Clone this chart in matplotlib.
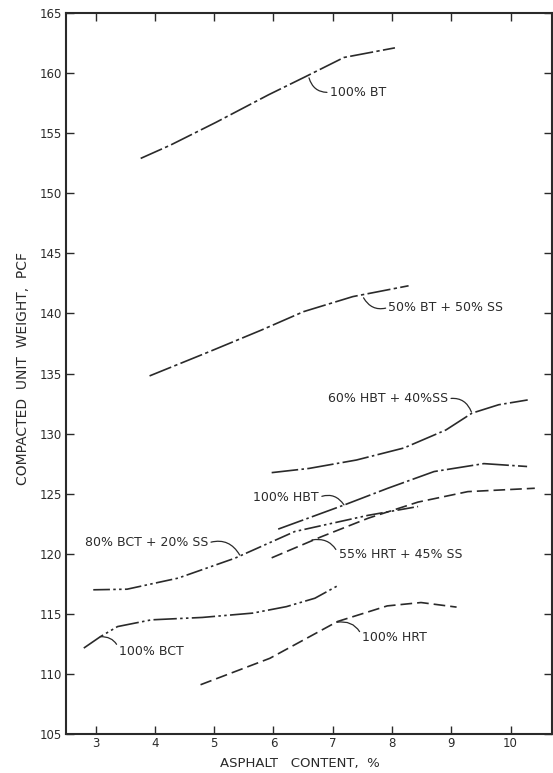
import matplotlib.pyplot as plt

# asphalt content (%) vs compacted unit weight (pcf)
bt100_x = [3.76, 4.26, 5.03, 5.92, 6.54, 7.19, 8.05]
bt100_y = [152.9, 154.0, 155.9, 158.2, 159.7, 161.3, 162.1]

bt50_x = [3.91, 4.91, 5.79, 6.51, 7.34, 8.28]
bt50_y = [134.8, 136.8, 138.6, 140.15, 141.4, 142.3]

hbt60_x = [5.97, 6.6, 7.4, 8.2, 8.91, 9.35, 9.8, 10.29]
hbt60_y = [126.75, 127.1, 127.8, 128.8, 130.3, 131.7, 132.4, 132.8]

hbt100_x = [6.08, 7.2, 7.93, 8.71, 9.55, 10.28]
hbt100_y = [122.05, 124.07, 125.45, 126.84, 127.5, 127.26]

hrt55_x = [5.97, 6.8, 7.6, 8.44, 9.28, 10.41]
hrt55_y = [119.66, 121.4, 122.96, 124.3, 125.17, 125.45]

bct80_x = [2.96, 3.53, 4.39, 5.35, 6.36, 7.6, 8.44]
bct80_y = [117.0, 117.05, 117.97, 119.63, 121.85, 123.2, 123.93]

bct100_x = [2.8, 3.08, 3.37, 3.94, 4.8, 5.65, 6.22, 6.7, 7.07]
bct100_y = [112.15, 113.1, 113.94, 114.5, 114.7, 115.06, 115.6, 116.3, 117.3]

hrt100_x = [4.77, 5.94, 7.08, 7.92, 8.49, 9.09]
hrt100_y = [109.1, 111.3, 114.36, 115.66, 115.94, 115.56]

xticks = [3, 4, 5, 6, 7, 8, 9, 10]
yticks = [105, 110, 115, 120, 125, 130, 135, 140, 145, 150, 155, 160, 165]

ink = "#2a2a2a"

fig = plt.figure(figsize=(5.53, 7.73), dpi=100)
ax = fig.add_axes([66 / 553, 39 / 773, 486 / 553, 721 / 773])

lw = 1.2
ax.plot(bt100_x, bt100_y, color=ink, lw=lw, dashes=(14, 2, 2, 2))
ax.plot(bt50_x, bt50_y, color=ink, lw=lw, dashes=(14, 2, 2, 2))
ax.plot(hbt60_x, hbt60_y, color=ink, lw=lw, dashes=(16, 2, 1.5, 2))
ax.plot(hbt100_x, hbt100_y, color=ink, lw=lw, dashes=(16, 2, 1.5, 2))
ax.plot(hrt55_x, hrt55_y, color=ink, lw=lw, dashes=(7, 3))
ax.plot(bct80_x, bct80_y, color=ink, lw=lw, dashes=(10, 2, 1.5, 2, 1.5, 2))
ax.plot(bct100_x, bct100_y, color=ink, lw=lw, dashes=(14, 2, 1.5, 2, 1.5, 2))
ax.plot(hrt100_x, hrt100_y, color=ink, lw=lw, dashes=(7, 3))

fs = 9
lead = dict(arrowstyle="-", color=ink, lw=0.9, shrinkA=0, shrinkB=0)

ax.annotate("100% BT", xy=(6.60, 159.6), xytext=(6.95, 158.4), fontsize=fs,
            color=ink, va="center", ha="left",
            arrowprops=dict(lead, relpos=(0, 0.5), connectionstyle="arc3,rad=-0.4"))
ax.annotate("50% BT + 50% SS", xy=(7.52, 141.3), xytext=(7.94, 140.5), fontsize=fs,
            color=ink, va="center", ha="left",
            arrowprops=dict(lead, relpos=(0, 0.5), connectionstyle="arc3,rad=-0.4"))
ax.annotate("60% HBT + 40%SS", xy=(9.34, 131.8), xytext=(8.95, 132.9), fontsize=fs,
            color=ink, va="center", ha="right",
            arrowprops=dict(lead, relpos=(1, 0.5), connectionstyle="arc3,rad=-0.4"))
ax.annotate("100% HBT", xy=(7.19, 124.07), xytext=(6.77, 124.7), fontsize=fs,
            color=ink, va="center", ha="right",
            arrowprops=dict(lead, relpos=(1, 0.5), connectionstyle="arc3,rad=-0.4"))
ax.annotate("80% BCT + 20% SS", xy=(5.43, 119.9), xytext=(4.9, 120.9), fontsize=fs,
            color=ink, va="center", ha="right",
            arrowprops=dict(lead, relpos=(1, 0.5), connectionstyle="arc3,rad=-0.4"))
ax.annotate("55% HRT + 45% SS", xy=(6.65, 121.15), xytext=(7.10, 119.9), fontsize=fs,
            color=ink, va="center", ha="left",
            arrowprops=dict(lead, relpos=(0, 0.5), connectionstyle="arc3,rad=0.4"))
ax.annotate("100% BCT", xy=(3.08, 113.1), xytext=(3.40, 111.9), fontsize=fs,
            color=ink, va="center", ha="left",
            arrowprops=dict(lead, relpos=(0, 0.5), connectionstyle="arc3,rad=0.4"))
ax.annotate("100% HRT", xy=(7.07, 114.3), xytext=(7.50, 113.05), fontsize=fs,
            color=ink, va="center", ha="left",
            arrowprops=dict(lead, relpos=(0, 0.5), connectionstyle="arc3,rad=0.4"))

ax.set_xlim(2.5, 10.7)
ax.set_ylim(105, 165)
ax.set_xticks(xticks)
ax.set_yticks(yticks)
ax.tick_params(direction="in", length=6, width=1, colors=ink, labelsize=8.5,
               top=True, right=True)
ax.tick_params(axis="x", pad=2)
ax.tick_params(axis="y", pad=3)
for s in ax.spines.values():
    s.set_linewidth(1.5)
    s.set_color(ink)

fig.text(300 / 553, 1 - 764 / 773, "ASPHALT   CONTENT,  %", ha="center", va="center",
         fontsize=9.5, color=ink)
fig.text(23 / 553, 1 - 369 / 773, "COMPACTED  UNIT  WEIGHT,  PCF", ha="center",
         va="center", rotation=90, fontsize=10, color=ink)

fig.savefig("out.png", dpi=100)
